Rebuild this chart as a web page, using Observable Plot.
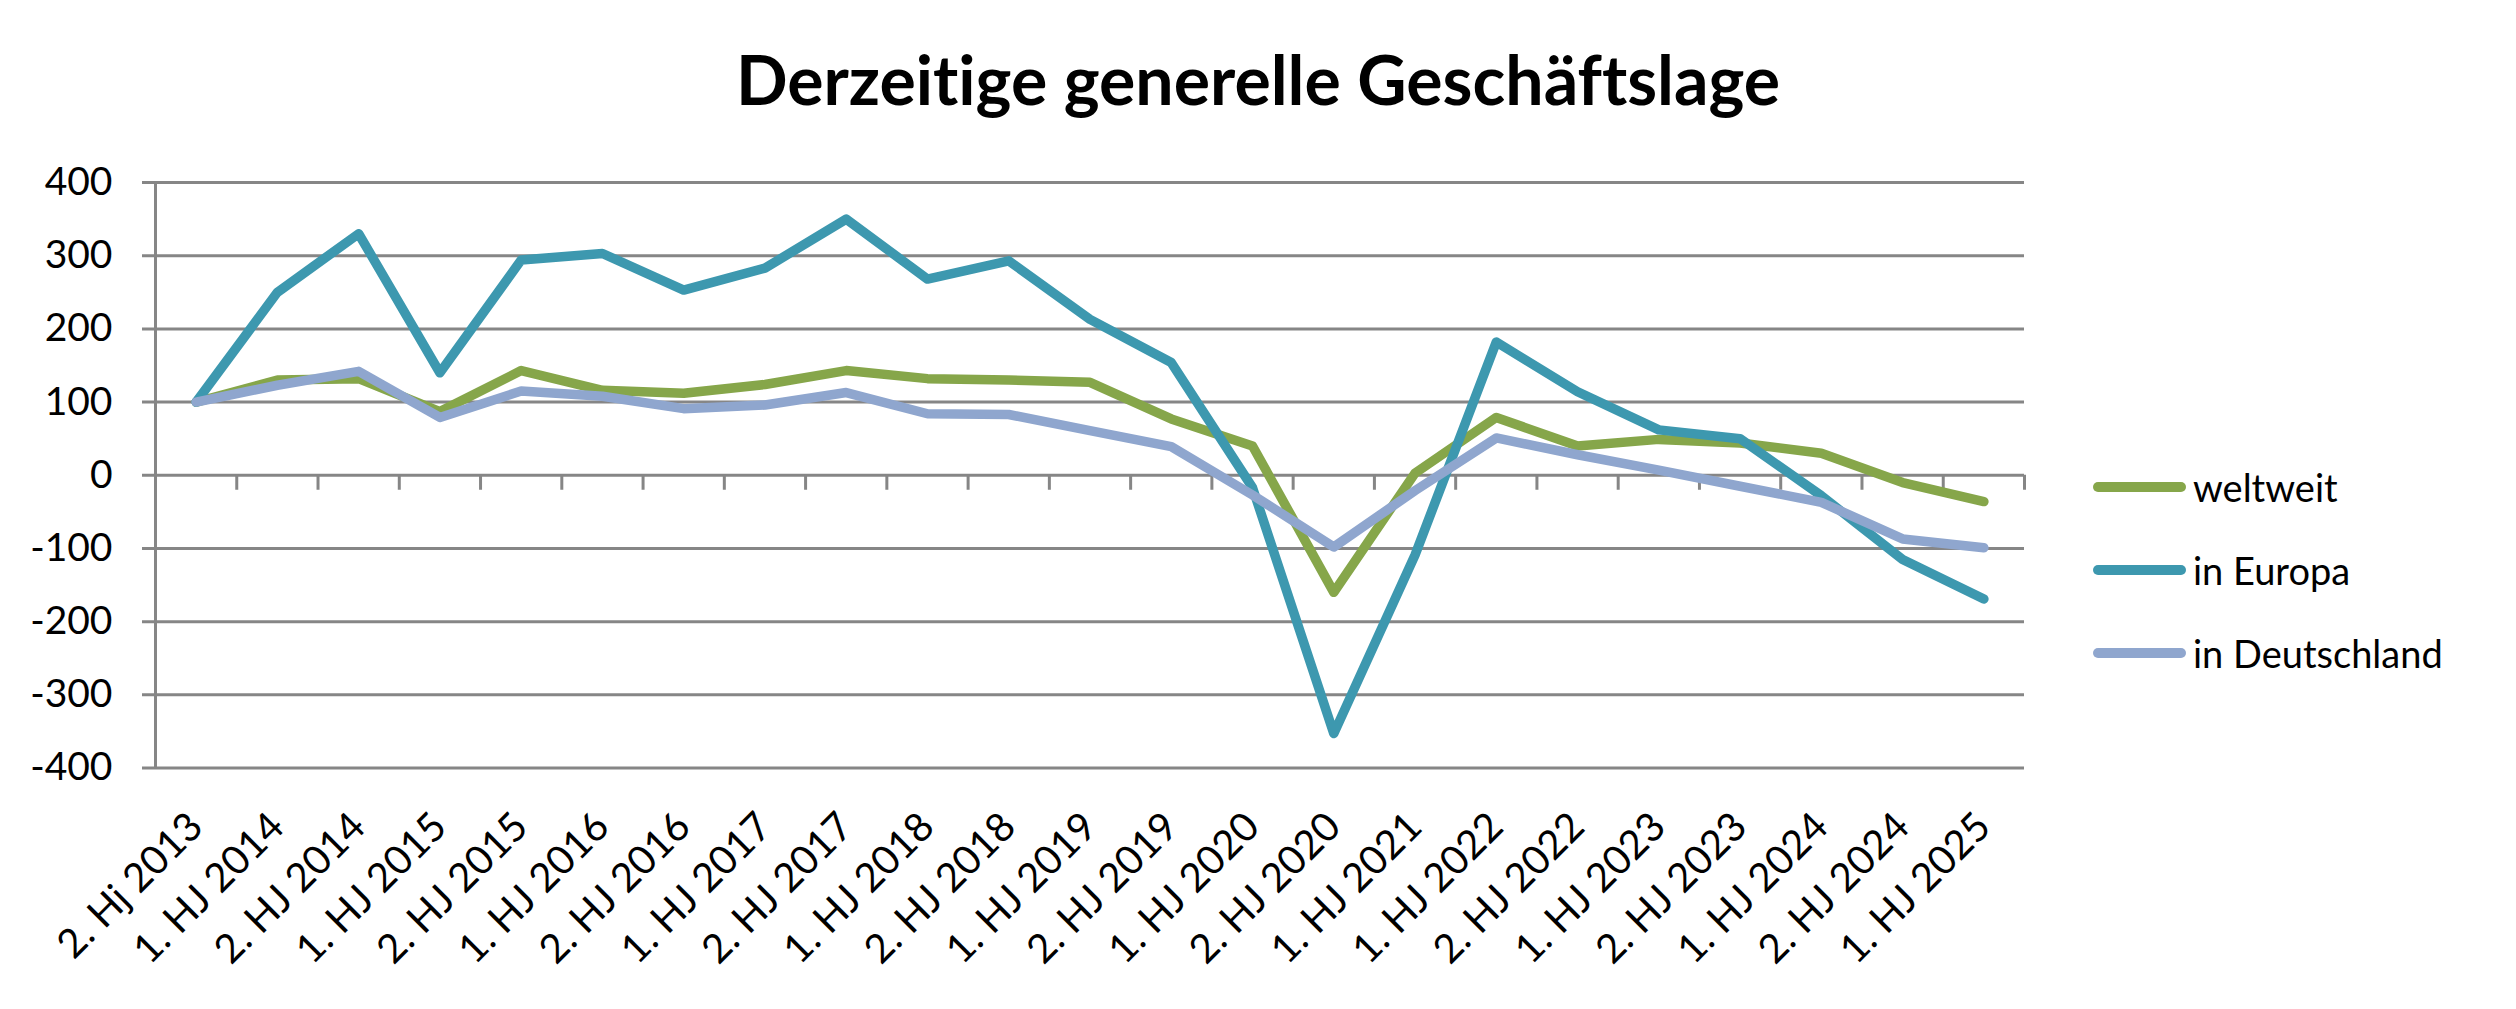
<!DOCTYPE html>
<html><head><meta charset="utf-8">
<script src="https://cdn.jsdelivr.net/npm/d3@7"></script>
<script src="https://cdn.jsdelivr.net/npm/@observablehq/plot@0.6"></script>
<style>
body{margin:0;background:#fff;font-family:Lato,"Open Sans",sans-serif;font-variant-ligatures:none;}
#wrap{position:relative;width:2516px;height:1009px;overflow:hidden;}
#title{position:absolute;left:0;width:2516px;top:47px;text-align:center;font-weight:700;font-size:68px;line-height:64px;color:#000;font-variant-ligatures:none;font-feature-settings:"liga" 0;}
#chart{position:absolute;left:0;top:130px;}
#legend{position:absolute;left:2093px;top:0;}
.item{position:absolute;left:0;height:40px;display:flex;align-items:center;white-space:nowrap;font-size:38px;color:#000;}
.sw{width:93px;height:9.5px;border-radius:5px;margin-right:7px;}
</style></head><body>
<div id="wrap"><div id="title">Derzeitige generelle Geschäftslage</div><div id="chart"></div><div id="legend"></div></div>
<script>
const categories = ["2. Hj 2013","1. HJ 2014","2. HJ 2014","1. HJ 2015","2. HJ 2015","1. HJ 2016","2. HJ 2016","1. HJ 2017","2. HJ 2017","1. HJ 2018","2. HJ 2018","1. HJ 2019","2. HJ 2019","1. HJ 2020","2. HJ 2020","1. HJ 2021","1. HJ 2022","2. HJ 2022","1. HJ 2023","2. HJ 2023","1. HJ 2024","2. HJ 2024","1. HJ 2025"];
const weltweit = [100,130,132,87,143,116,112,124,143,132,130,127,77,40,-160,3,79,40,49,44,30,-10,-36];
const europa = [100,250,330,140,294,303,253,283,350,268,293,213,154,-17,-353,-109,182,114,62,50,-28,-115,-169];
const deutschland = [100,123,142,79,115,108,91,96,113,84,83,61,39,-27,-98,-21,51,28,7,-15,-37,-87,-99];
const seriesNames = ["weltweit","in Europa","in Deutschland"];
const seriesColors = ["#86A64A","#3D98AF","#8FA6CE"];
const yTicks = [-400,-300,-200,-100,0,100,200,300,400];

const seriesValues = [weltweit, europa, deutschland];
const rows = [];
seriesValues.forEach((vals, s) => vals.forEach((v, i) => rows.push({i, v, s: seriesNames[s]})));
const idx = d3.range(categories.length);
const bounds = idx.map(i => i + 0.5);
const grey = "#868686";

const chart = Plot.plot({
  width: 2516, height: 879,
  marginTop: 52, marginBottom: 241.5, marginLeft: 155, marginRight: 492,
  style: {fontFamily: "Lato, 'Open Sans', sans-serif", color: "#000", background: "#fff", overflow: "visible"},
  x: {domain: [-0.5, categories.length - 0.5], axis: null},
  y: {domain: [-400, 400], axis: null},
  color: {domain: seriesNames, range: seriesColors},
  marks: [
    Plot.ruleY(yTicks, {insetLeft: -13, stroke: grey, strokeWidth: 3}),
    Plot.axisY(yTicks, {anchor: "left", tickSize: 0, tickPadding: 43, fontSize: 39, label: null, tickFormat: d => String(d)}),
    Plot.ruleX([-0.5], {stroke: grey, strokeWidth: 3}),
    Plot.ruleX(bounds, {x: d => d, y1: 0, y2: 0, insetBottom: -15, stroke: grey, strokeWidth: 3}),
    Plot.axisX(idx, {anchor: "bottom", tickSize: 0, tickPadding: 40, dy: 12, tickRotate: -45, fontSize: 40, label: null, tickFormat: i => categories[i]}),
    Plot.line(rows, {x: "i", y: "v", z: "s", stroke: "s", strokeWidth: 9.5, strokeLinejoin: "round", strokeLinecap: "round"})
  ]
});
document.getElementById("chart").appendChild(chart);

const legendY = [487, 570, 653];
const legend = document.getElementById("legend");
seriesNames.forEach((n, k) => {
  const it = document.createElement("div");
  it.className = "item";
  it.style.top = (legendY[k] - 20) + "px";
  const sw = document.createElement("div");
  sw.className = "sw";
  sw.style.background = seriesColors[k];
  it.appendChild(sw);
  it.appendChild(document.createTextNode(n));
  legend.appendChild(it);
});
</script>
</body></html>
